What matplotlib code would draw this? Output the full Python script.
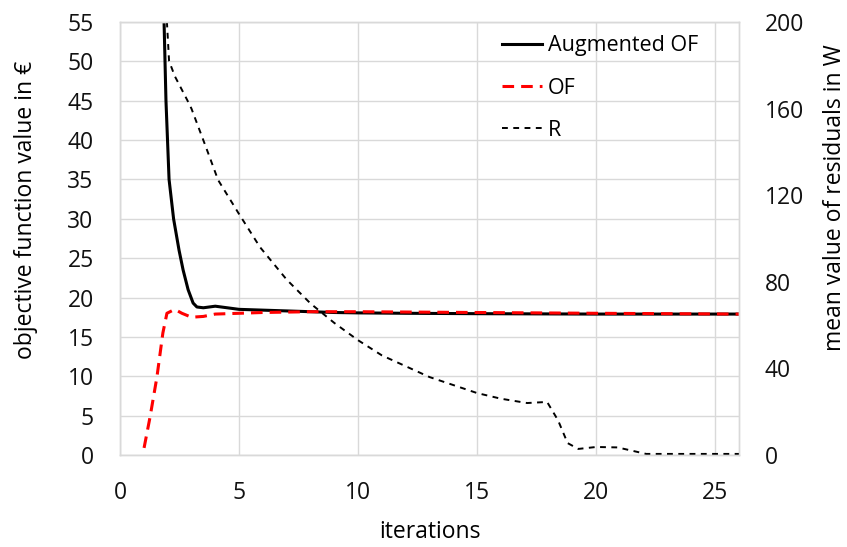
import matplotlib
matplotlib.use("Agg")
import matplotlib.pyplot as plt

# Augmented OF (left axis)
aug_x = [1.80, 1.85, 1.93, 2.06, 2.25, 2.48, 2.65, 2.86, 3.07, 3.23, 3.5, 4.0, 4.5, 5.0, 6, 7, 8, 9, 10, 12, 15, 20, 26]
aug_y = [62, 55, 45, 35, 30, 26, 23.5, 21, 19.3, 18.8, 18.7, 18.9, 18.7, 18.5, 18.4, 18.3, 18.2, 18.1, 18.05, 18.0, 17.95, 17.9, 17.9]

# OF (left axis)
of_x = [1.01, 1.26, 1.55, 1.8, 1.97, 2.3, 2.6, 3.0, 3.5, 4, 5, 6, 8, 10, 15, 20, 26]
of_y = [0.9, 4.8, 9.9, 15.5, 18.0, 18.5, 18.0, 17.5, 17.6, 17.9, 18.0, 18.1, 18.2, 18.2, 18.1, 18.0, 17.9]

# R (right axis)
r_x = [1.95, 1.97, 2.06, 2.3, 2.82, 3.0, 3.65, 4.12, 4.96, 5.88, 7, 8, 9, 10, 11, 12, 13, 14, 15, 16, 17.1, 17.6, 17.94, 18.4, 18.8, 19.25, 20.0, 20.9, 21.5, 22.1, 23, 24, 25, 26]
r_y = [215, 200, 182, 175, 164, 160, 141, 127, 112, 96, 81, 70, 61, 53, 46, 41, 36, 32.3, 28.6, 26, 24, 24.3, 24.5, 16, 5.5, 2.8, 3.7, 3.5, 2.0, 0.5, 0.5, 0.5, 0.5, 0.5]

x_ticks = [0, 5, 10, 15, 20, 25]
left_ticks = [0, 5, 10, 15, 20, 25, 30, 35, 40, 45, 50, 55]
right_ticks = [0, 40, 80, 120, 160, 200]

plt.rcParams['font.family'] = ['Open Sans', 'DejaVu Sans']

fig = plt.figure(figsize=(8.47, 5.47), dpi=100)
ax = fig.add_axes([0.1417, 0.1682, 0.7308, 0.7916])
ax2 = ax.twinx()

ax.set_xlim(0, 26)
ax.set_ylim(0, 55)
ax2.set_ylim(0, 200)
ax.set_xticks(x_ticks)
ax.set_yticks(left_ticks)
ax2.set_yticks(right_ticks)

grid_c = '#d9d9d9'
ax.grid(True, color=grid_c, linewidth=1.0)
ax.set_axisbelow(True)
for a in (ax, ax2):
    for s in a.spines.values():
        s.set_color(grid_c)
        s.set_linewidth(1.0)
    a.tick_params(length=0, labelsize=16.5, colors='#111111')
ax.tick_params(axis='y', pad=19)
ax.tick_params(axis='x', pad=19)
ax2.tick_params(axis='y', pad=18.5)

l1, = ax.plot(aug_x, aug_y, color='black', lw=2.2, label='Augmented OF')
l2, = ax.plot(of_x, of_y, color='#ff0000', lw=2.2, ls=(0, (3.8, 2.3)), label='OF')
l3, = ax2.plot(r_x, r_y, color='black', lw=1.4, ls=(0, (3, 2.8)), label='R')

ax.set_xlabel('iterations', fontsize=16.5)
ax.set_ylabel('objective function value in €', fontsize=16.5)
ax2.set_ylabel('mean value of residuals in W', fontsize=16.5)
ax.xaxis.set_label_coords(0.5, -0.150)
ax.yaxis.set_label_coords(-0.1325, 0.566)
ax2.yaxis.set_label_coords(1.136, 0.594)

leg = ax2.legend(handles=[l1, l2, l3], loc='upper left', bbox_to_anchor=(0.617, 0.969),
                 frameon=False, fontsize=15.5, labelspacing=0.98, handlelength=1.85,
                 handletextpad=0.3, borderpad=0, borderaxespad=0)

fig.savefig('out.png', dpi=100)
